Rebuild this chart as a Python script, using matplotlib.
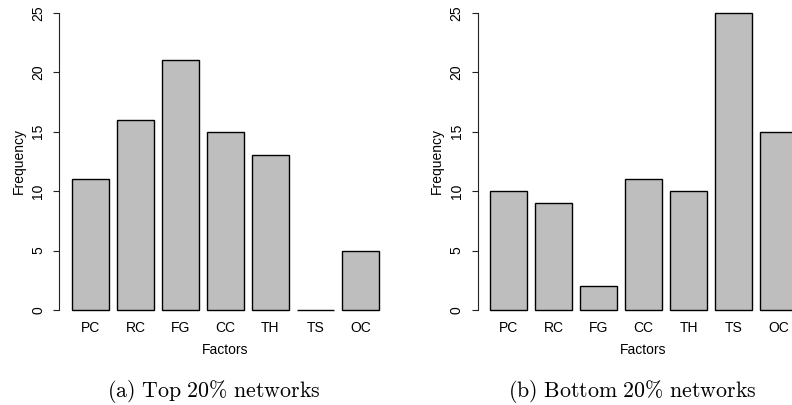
import matplotlib.pyplot as plt

plt.rcParams['font.family'] = ['Liberation Sans', 'DejaVu Sans']
plt.rcParams['mathtext.fontset'] = 'cm'

factors = ['PC', 'RC', 'FG', 'CC', 'TH', 'TS', 'OC']
top_freq = [11, 16, 21, 15, 13, 0, 5]
bottom_freq = [10, 9, 2, 11, 10, 25, 15]
captions = [r'$\mathrm{(a)\ Top\ 20\%\ networks}$',
            r'$\mathrm{(b)\ Bottom\ 20\%\ networks}$']

fig = plt.figure(figsize=(7.92, 4.05), dpi=100)

# R barplot layout: width 1, space 0.2
centers = [0.7 + 1.2 * i for i in range(len(factors))]
panels = [(59.4, top_freq, captions[0]), (477.7, bottom_freq, captions[1])]

for left_px, freq, cap in panels:
    ax = fig.add_axes([left_px / 792, 83.1 / 405, 331.9 / 792, 321.0 / 405])
    ax.bar(centers, freq, width=1.0, color='#bebebe', edgecolor='black', linewidth=1.0)
    ax.set_xlim(-0.128, 8.728)
    ax.set_ylim(-1, 26)
    for s in ['top', 'right', 'bottom']:
        ax.spines[s].set_visible(False)
    ax.spines['left'].set_bounds(0, 25)
    ax.spines['left'].set_color('#222222')
    ax.set_yticks([0, 5, 10, 15, 20, 25])
    ax.tick_params(axis='y', length=4.3, pad=5.8, labelsize=10, color='#222222')
    for lbl in ax.get_yticklabels():
        lbl.set_rotation(90)
        lbl.set_va('center')
    ax.set_xticks([])
    for x, name in zip(centers, factors):
        ax.text(x, -0.0305, name, transform=ax.get_xaxis_transform(),
                ha='center', va='baseline', fontsize=10)
    ax.text(0.499, -0.1, 'Factors', transform=ax.transAxes,
            ha='center', va='baseline', fontsize=10)
    ax.text(-0.1235, 0.5, 'Frequency', transform=ax.transAxes, rotation=90,
            ha='center', va='center', fontsize=10)
    ax.text(0.466, -0.2349, cap, transform=ax.transAxes,
            ha='center', va='baseline', fontsize=15.8)

fig.savefig('out.png', dpi=100)
